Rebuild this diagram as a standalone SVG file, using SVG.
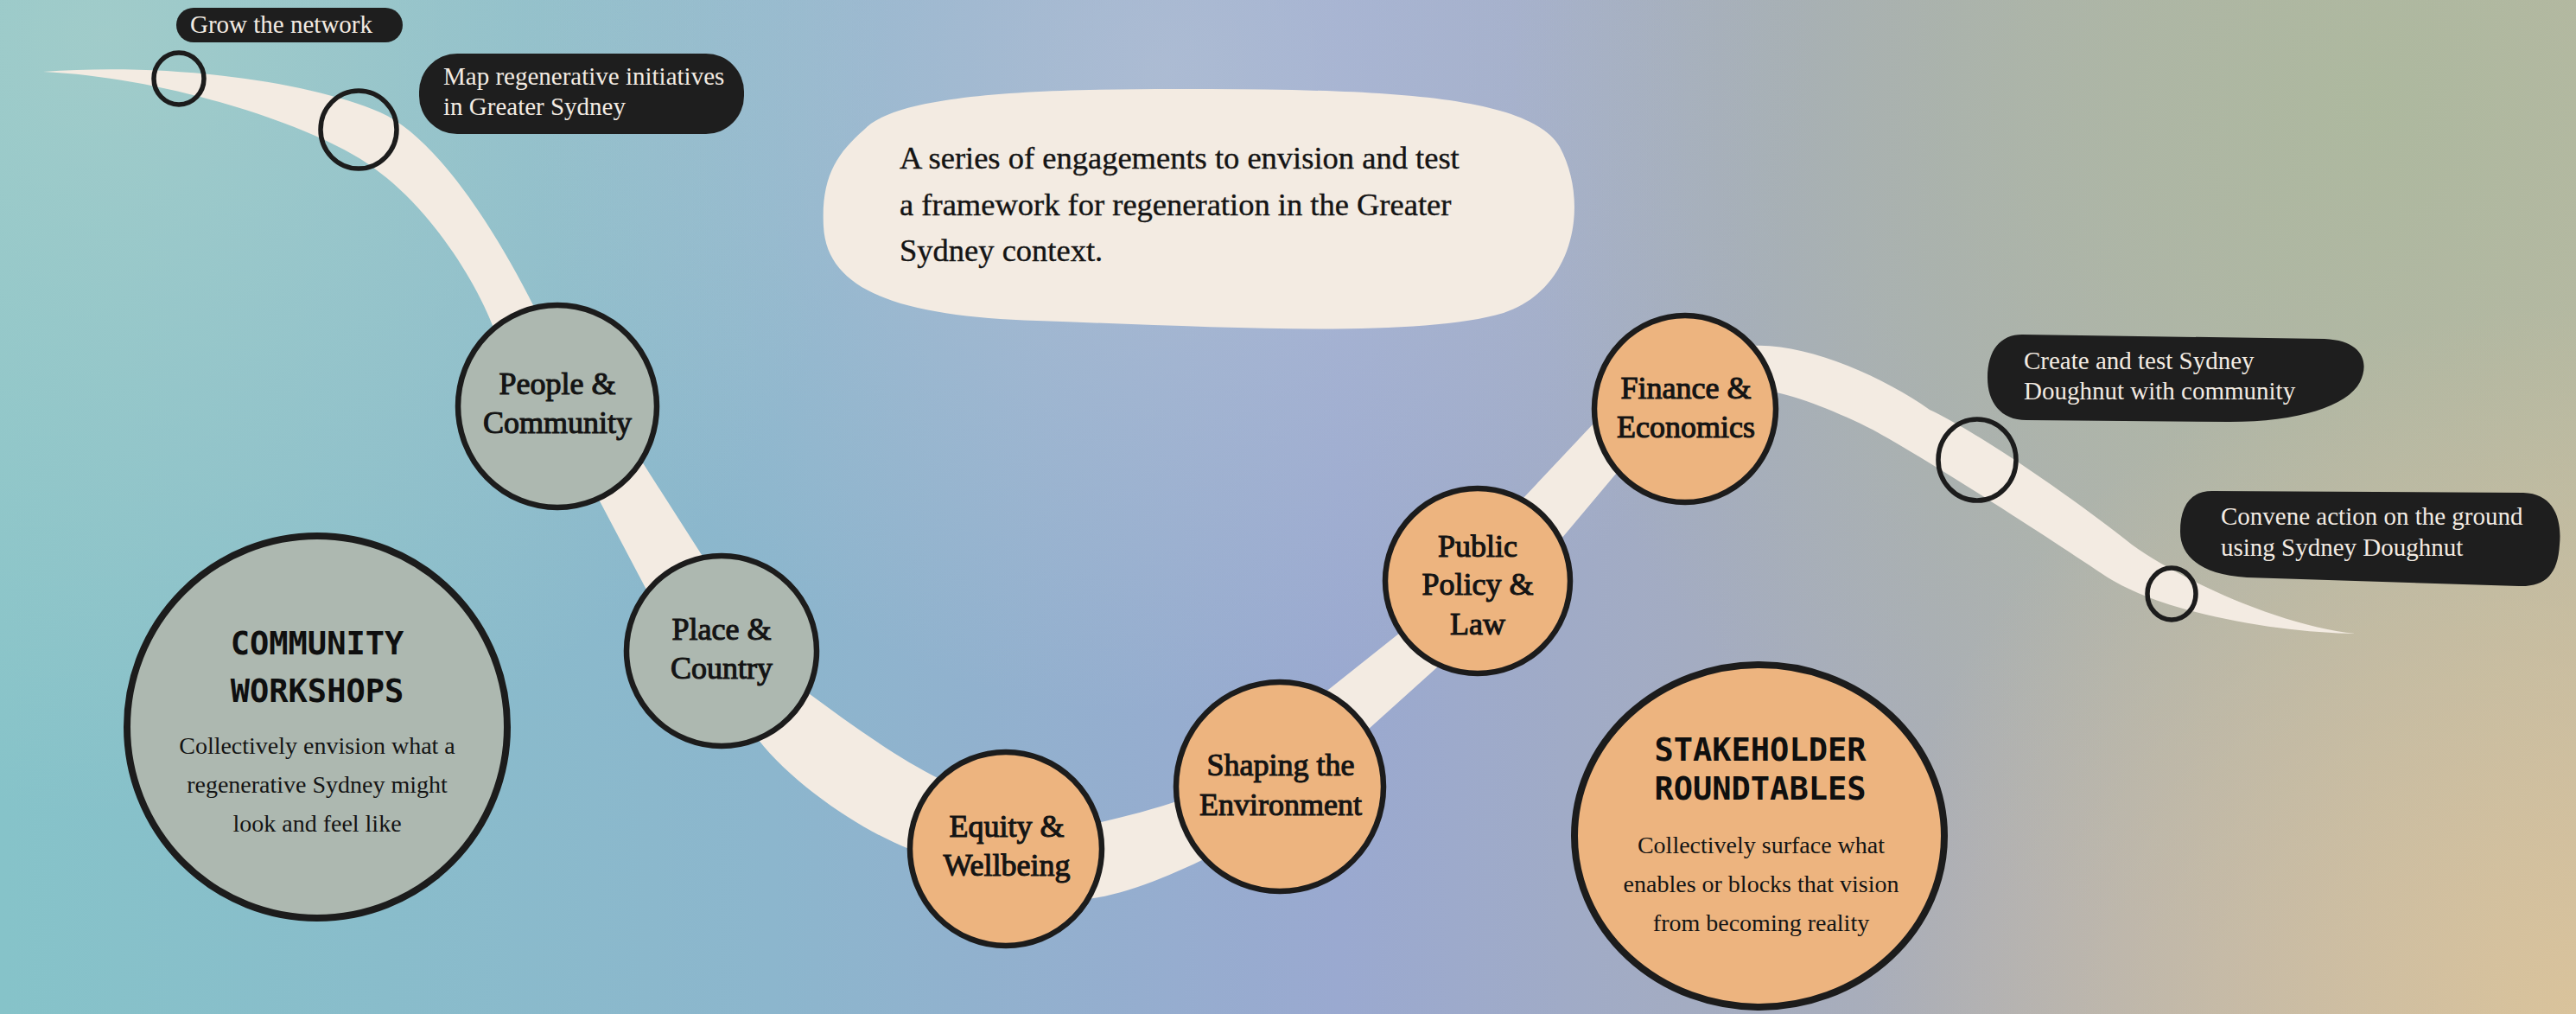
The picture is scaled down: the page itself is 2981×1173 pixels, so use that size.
<svg xmlns="http://www.w3.org/2000/svg" width="2981" height="1173" viewBox="0 0 2981 1173">
<defs>
<linearGradient id="bgBase" x1="0" y1="0" x2="1" y2="0">
<stop offset="0" stop-color="#86c3c9"/>
<stop offset="0.3" stop-color="#8cb6cd"/>
<stop offset="0.52" stop-color="#9aa9d0"/>
<stop offset="0.75" stop-color="#aaaeb8"/>
<stop offset="1" stop-color="#c0b8a8"/>
</linearGradient>
<radialGradient id="bgTL" cx="120" cy="40" r="900" gradientUnits="userSpaceOnUse">
<stop offset="0" stop-color="#a9cfca" stop-opacity="0.75"/>
<stop offset="1" stop-color="#a9cfca" stop-opacity="0"/>
</radialGradient>
<radialGradient id="bgTR" cx="2750" cy="120" r="1000" gradientUnits="userSpaceOnUse">
<stop offset="0" stop-color="#abb99c" stop-opacity="0.85"/>
<stop offset="1" stop-color="#abb99c" stop-opacity="0"/>
</radialGradient>
<radialGradient id="bgBR" cx="2981" cy="1173" r="820" gradientUnits="userSpaceOnUse">
<stop offset="0" stop-color="#dcc49a" stop-opacity="0.9"/>
<stop offset="1" stop-color="#dcc49a" stop-opacity="0"/>
</radialGradient>
<radialGradient id="bgTC" cx="1350" cy="80" r="750" gradientUnits="userSpaceOnUse">
<stop offset="0" stop-color="#bec7d6" stop-opacity="0.55"/>
<stop offset="1" stop-color="#bec7d6" stop-opacity="0"/>
</radialGradient>
<style>
.node-grey{fill:#adb8b0;stroke:#1c1c1c;stroke-width:6.5}
.node-orange{fill:#edb47f;stroke:#1c1c1c;stroke-width:6.5}
.big{stroke-width:8}
.ring{fill:none;stroke:#1c1c1c;stroke-width:5.5}
.label-bg{fill:#1e1e1e}
.label{font-family:"Liberation Serif","DejaVu Serif",serif;font-size:29px;fill:#f3ebe2}
.nt{font-family:"Liberation Serif","DejaVu Serif",serif;font-size:36px;fill:#141414;text-anchor:middle;stroke:#141414;stroke-width:1.1}
.title{font-family:"DejaVu Sans Mono","Liberation Mono",monospace;font-weight:bold;font-size:37px;fill:#0f0f0f;text-anchor:middle}
.desc{font-family:"Liberation Serif","DejaVu Serif",serif;font-size:28px;fill:#141414;text-anchor:middle}
.intro{font-family:"Liberation Serif","DejaVu Serif",serif;font-size:36.5px;fill:#141414;stroke:#141414;stroke-width:0.4}
</style>
</defs>
<g id="background">
<rect width="2981" height="1173" fill="url(#bgBase)"/>
<rect width="2981" height="1173" fill="url(#bgTL)"/>
<rect width="2981" height="1173" fill="url(#bgTC)"/>
<rect width="2981" height="1173" fill="url(#bgTR)"/>
<rect width="2981" height="1173" fill="url(#bgBR)"/>
</g>
<g id="connectors">
<path id="ribbon" fill="#f3ebe2" d="M 50,83 C 200,72 360,95 440,130 C 504,158 573,265 618,355 L 741,531 L 814,645 L 933,800 C 983,837 1037,876 1087,901 L 1270,952 C 1300,945 1340,935 1367,925 L 1537,798 L 1620,732 L 1763,576 L 1843,491 L 2030,400 C 2090,397 2180,436 2233,474 C 2293,502 2407,582 2467,630 C 2527,673 2640,724 2726,733 C 2640,732 2500,710 2433,664 C 2370,622 2235,534 2167,497 C 2130,478 2080,458 2050,453 L 1870,548 L 1807,623 L 1663,772 L 1583,844 L 1395,993 C 1350,1015 1300,1035 1259,1040 L 1052,982 C 1000,962 920,910 877,855 L 749,684 L 691,574 L 575,390 C 555,330 500,245 440,200 C 380,150 200,90 50,83 Z"/>
</g>
<g id="intro">
<path d="M 1000,150 C 1040,108 1200,102 1400,103 C 1600,104 1770,110 1805,170 C 1840,235 1822,335 1740,362 C 1640,392 1400,378 1200,371 C 1050,366 957,340 953,262 C 950,205 968,178 1000,150 Z" fill="#f3ebe2"/>
<text class="intro" x="1041" y="195">A series of engagements to envision and test</text>
<text class="intro" x="1041" y="249">a framework for regeneration in the Greater</text>
<text class="intro" x="1041" y="302">Sydney context.</text>
</g>
<g id="step-grow">
<ellipse class="ring" cx="207" cy="91" rx="29" ry="30"/>
<rect class="label-bg" x="204" y="9" width="262" height="40" rx="20"/>
<text class="label" x="220" y="38">Grow the network</text>
</g>
<g id="step-map">
<ellipse class="ring" cx="415" cy="150" rx="44" ry="45"/>
<rect class="label-bg" x="485" y="62" width="376" height="93" rx="44"/>
<text class="label" x="513" y="98">Map regenerative initiatives</text>
<text class="label" x="513" y="133">in Greater Sydney</text>
</g>
<g id="node-people">
<ellipse class="node-grey" cx="645" cy="470" rx="115" ry="117"/>
<text class="nt" x="645" y="456">People &amp;</text>
<text class="nt" x="645" y="501">Community</text>
</g>
<g id="node-place">
<ellipse class="node-grey" cx="835" cy="753" rx="110" ry="110"/>
<text class="nt" x="835" y="740">Place &amp;</text>
<text class="nt" x="835" y="785">Country</text>
</g>
<g id="node-equity">
<ellipse class="node-orange" cx="1164" cy="982" rx="111" ry="112"/>
<text class="nt" x="1165" y="968">Equity &amp;</text>
<text class="nt" x="1165" y="1013">Wellbeing</text>
</g>
<g id="node-shaping">
<ellipse class="node-orange" cx="1481" cy="910" rx="120" ry="121"/>
<text class="nt" x="1482" y="897">Shaping the</text>
<text class="nt" x="1482" y="943">Environment</text>
</g>
<g id="node-policy">
<ellipse class="node-orange" cx="1710" cy="672" rx="107" ry="107"/>
<text class="nt" x="1710" y="644">Public</text>
<text class="nt" x="1710" y="688">Policy &amp;</text>
<text class="nt" x="1710" y="734">Law</text>
</g>
<g id="node-finance">
<ellipse class="node-orange" cx="1950" cy="473" rx="105" ry="108"/>
<text class="nt" x="1951" y="461">Finance &amp;</text>
<text class="nt" x="1951" y="506">Economics</text>
</g>
<g id="step-create">
<ellipse class="ring" cx="2288" cy="532" rx="45" ry="47"/>
<path class="label-bg" d="M 2340,387 L 2690,392 C 2735,394 2742,420 2731,442 C 2716,470 2660,488 2580,488 L 2345,486 C 2315,486 2300,465 2300,437 C 2300,405 2315,387 2340,387 Z"/>
<text class="label" x="2342" y="427">Create and test Sydney</text>
<text class="label" x="2342" y="462">Doughnut with community</text>
</g>
<g id="step-convene">
<ellipse class="ring" cx="2513" cy="687" rx="28" ry="30"/>
<path class="label-bg" d="M 2560,568 L 2920,570 C 2955,571 2965,600 2962,630 C 2960,665 2945,679 2915,678 L 2600,668 C 2545,665 2523,642 2523,615 C 2523,585 2535,568 2560,568 Z"/>
<text class="label" x="2570" y="607">Convene action on the ground</text>
<text class="label" x="2570" y="643">using Sydney Doughnut</text>
</g>
<g id="community-workshops">
<ellipse class="node-grey big" cx="367" cy="841" rx="220" ry="221"/>
<text class="title" x="367" y="757">COMMUNITY</text>
<text class="title" x="367" y="812">WORKSHOPS</text>
<text class="desc" x="367" y="872">Collectively envision what a</text>
<text class="desc" x="367" y="917">regenerative Sydney might</text>
<text class="desc" x="367" y="962">look and feel like</text>
</g>
<g id="stakeholder-roundtables">
<ellipse class="node-orange big" cx="2036" cy="967" rx="214" ry="198"/>
<text class="title" x="2037" y="880">STAKEHOLDER</text>
<text class="title" x="2037" y="925">ROUNDTABLES</text>
<text class="desc" x="2038" y="987">Collectively surface what</text>
<text class="desc" x="2038" y="1032">enables or blocks that vision</text>
<text class="desc" x="2038" y="1077">from becoming reality</text>
</g>
</svg>
